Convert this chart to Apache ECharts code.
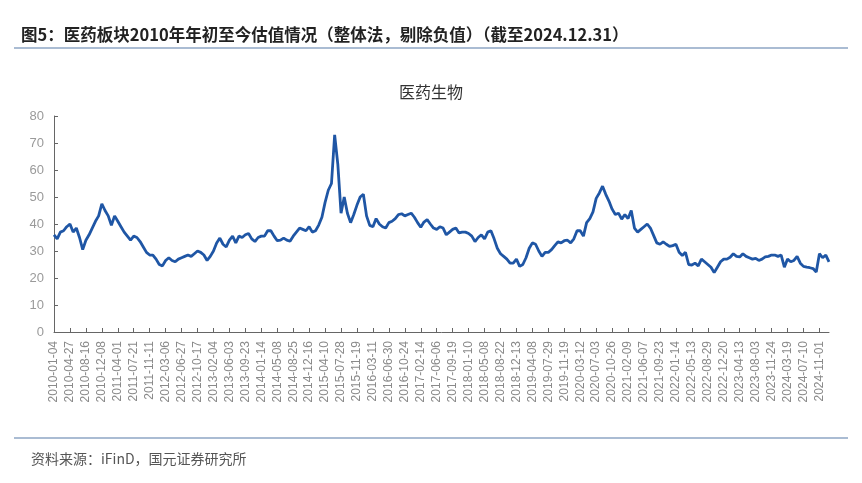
<!DOCTYPE html>
<html>
<head>
<meta charset="utf-8">
<script src="https://cdn.jsdelivr.net/npm/echarts@6/dist/echarts.min.js"></script>
<style>
  html, body { margin: 0; padding: 0; background: #fff; }
  #box { width: 862px; height: 483px; }
</style>
</head>
<body>
<div id="box"></div>
<script>
// 横轴刻度标签（每隔 5 个取样点一个）
const tickLabels = [
  "2010-01-04", "2010-04-27", "2010-08-16", "2010-12-08", "2011-04-01", "2011-07-21", "2011-11-11",
  "2012-03-06", "2012-06-27", "2012-10-17", "2013-02-04", "2013-06-03", "2013-09-23", "2014-01-14",
  "2014-05-08", "2014-08-25", "2014-12-16", "2015-04-10", "2015-07-28", "2015-11-19", "2016-03-11",
  "2016-06-30", "2016-10-24", "2017-02-14", "2017-06-06", "2017-09-19", "2018-01-10", "2018-05-08",
  "2018-08-22", "2018-12-13", "2019-04-08", "2019-07-29", "2019-11-19", "2020-03-12", "2020-07-03",
  "2020-10-26", "2021-02-09", "2021-06-07", "2021-09-23", "2022-01-14", "2022-05-13", "2022-08-29",
  "2022-12-20", "2023-04-13", "2023-08-03", "2023-11-24", "2024-03-19", "2024-07-10", "2024-11-01"
];

// 医药生物 PE（整体法）
const peValues = [
  36, 34.5, 37, 37.5, 39, 40, 37, 38.5, 35, 30.5,
  34, 36, 38.5, 41, 43, 47.5, 45, 43, 39.5, 43,
  41, 39, 37, 35.5, 34, 35.5, 35, 33.5, 31.5, 29.5,
  28.5, 28.5, 27, 25, 24.5, 26.5, 27.5, 26.5, 26, 27,
  27.5, 28, 28.5, 28, 29, 30, 29.5, 28.5, 26.5, 28,
  30, 33, 34.8, 32.5, 31.5, 34, 35.5, 33, 35.5, 35,
  36, 36.5, 34.5, 33.5, 35, 35.5, 35.5, 37.5, 37.5, 35.5,
  33.8, 34, 34.8, 34, 33.6, 35.5, 37, 38.5, 38, 37.5,
  39, 37, 37.5, 39.6, 42.5, 48, 52.5, 55, 73, 62,
  44, 50, 44, 40.5, 43.5, 47, 50, 51, 43, 39.5,
  39, 42, 40, 39, 38.5, 40.5, 41, 42, 43.5, 43.8,
  43, 43.5, 44, 42.5, 40.5, 38.8, 40.7, 41.6, 40, 38.5,
  38, 39, 38.5, 36, 37, 38, 38.5, 36.7, 37, 37,
  36.5, 35.5, 33.5, 35, 36, 34.5, 37, 37.5, 34.5, 31,
  29, 28, 27, 25.5, 25.5, 27, 24.3, 25, 27.5, 31,
  33, 32.5, 30, 28, 29.5, 29.5, 30.5, 32, 33.4, 33,
  33.8, 34, 33, 34.5, 37.5, 37.5, 35.5, 40.5, 42, 44.5,
  49.5, 51.5, 54, 51, 48.5, 45.5, 43.5, 44, 41.8, 43.5,
  42, 45, 38.5, 37, 38, 39, 40, 38.5, 35.8, 33,
  32.5, 33.4, 32.5, 31.7, 32, 32.5, 29.5, 28.3, 29.5, 25,
  24.8, 25.5, 24.5, 27, 26, 25, 24, 22, 24, 26,
  27, 27, 27.7, 29, 28, 27.8, 29, 28, 27.5, 27,
  27.3, 26.5, 27, 27.8, 28, 28.5, 28.5, 28, 28.5, 24,
  27, 26, 26.5, 28, 25.5, 24.3, 24, 23.8, 23.5, 22.2,
  29, 27.5, 28.5, 26
];

const yTicks = [0, 10, 20, 30, 40, 50, 60, 70, 80];

// 取样点类目：刻度处放日期，其余留空
let categories = peValues.map(function (v, i) {
  return i % 5 === 0 && tickLabels[i / 5] ? tickLabels[i / 5] : "";
});

let chart = echarts.init(document.getElementById("box"));

let option = {
  backgroundColor: "#fff",
  animation: false,
  title: [
    {
      text: "图5：医药板块2010年年初至今估值情况（整体法，剔除负值）（截至2024.12.31）",
      left: 16,
      top: 21,
      textStyle: {
        fontFamily: "Noto Sans CJK SC",
        fontSize: 16.5,
        fontWeight: "bold",
        color: "#222",
      },
    },
    {
      text: "医药生物",
      left: "center",
      top: 79,
      textStyle: {
        fontFamily: "Noto Sans CJK SC",
        fontSize: 16,
        fontWeight: "normal",
        color: "#333",
      },
    },
    {
      text: "资料来源：iFinD，国元证券研究所",
      left: 26,
      top: 447,
      textStyle: {
        fontFamily: "Noto Sans CJK SC",
        fontSize: 14,
        fontWeight: "normal",
        color: "#555",
      },
    },
  ],
  graphic: [
    // 上下两条分隔线
    { type: "rect", shape: { x: 14, y: 47, width: 834, height: 2 }, style: { fill: "#aabcd3" } },
    { type: "rect", shape: { x: 14, y: 437, width: 834, height: 2 }, style: { fill: "#aabcd3" } },
  ],
  grid: {
    left: 54,
    right: 33,
    top: 116,
    bottom: 151,
  },
  xAxis: {
    type: "category",
    boundaryGap: false,
    data: categories,
    axisLine: { lineStyle: { color: "#666", width: 1 } },
    axisTick: { inside: true, length: 4, interval: 4, lineStyle: { color: "#666" } },
    axisLabel: {
      interval: 4,
      rotate: 90,
      margin: 9,
      fontSize: 12,
      fontFamily: "Liberation Sans",
      color: "#8a8a8a",
    },
    splitLine: { show: false },
  },
  yAxis: {
    type: "value",
    min: yTicks[0],
    max: yTicks[yTicks.length - 1],
    interval: 10,
    axisLine: { show: true, lineStyle: { color: "#666", width: 1 } },
    axisTick: { show: true, inside: true, length: 4, lineStyle: { color: "#666" } },
    axisLabel: {
      margin: 10,
      fontSize: 13,
      fontFamily: "Liberation Sans",
      color: "#9a9a9a",
    },
    splitLine: { show: false },
  },
  series: [
    {
      name: "医药生物",
      type: "line",
      data: peValues,
      symbol: "none",
      smooth: false,
      lineStyle: { color: "#1f56a5", width: 2.8 },
    },
  ],
};
chart.setOption(option);
</script>
</body>
</html>
